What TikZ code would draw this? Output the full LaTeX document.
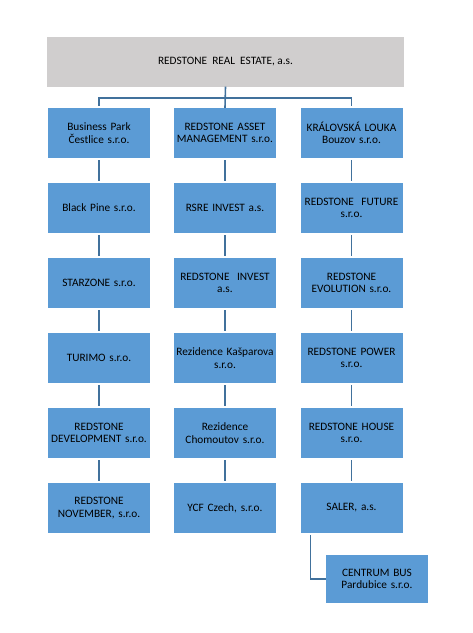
\documentclass[tikz,border=0pt]{standalone}
\usepackage{fontspec}
\setmainfont{Carlito}
\usetikzlibrary{positioning}
\definecolor{cParent}{RGB}{208,206,206}
\definecolor{cFirm}{RGB}{91,155,213}
\definecolor{cLink}{RGB}{65,113,156}
\tikzset{
	parent/.style={rectangle, fill=cParent, minimum width=357pt, minimum height=50pt, align=center, inner sep=1pt},
	firm/.style  ={rectangle, fill=cFirm, minimum width=102pt, minimum height=50pt, text width=100pt, align=center, inner sep=1pt},
	link/.style  ={draw=cLink, line width=1.6pt},
}
\begin{document}
\begin{tikzpicture}[x=1pt, y=1pt, font=\fontsize{11.3}{12.5}\selectfont, node distance=24.6pt]
	\useasboundingbox (0,0) rectangle (473,-633);
	\node[parent] (root) at (225.5,-61.5) {REDSTONE\ \ REAL\ \ ESTATE, a.s.};
	% left column
	\node[firm] (l1) at (99,-133) {Business Park\\ Čestlice s.r.o.};
	\node[firm, below=of l1] (l2) {Black Pine s.r.o.};
	\node[firm, below=of l2] (l3) {STARZONE s.r.o.};
	\node[firm, below=of l3] (l4) {TURIMO s.r.o.};
	\node[firm, below=of l4] (l5) {REDSTONE\\ DEVELOPMENT s.r.o.};
	\node[firm, below=of l5] (l6) {REDSTONE\\ NOVEMBER, s.r.o.};
	% middle column
	\node[firm] (m1) at (225,-133) {REDSTONE ASSET\\ MANAGEMENT s.r.o.};
	\node[firm, below=of m1] (m2) {RSRE INVEST a.s.};
	\node[firm, below=of m2] (m3) {REDSTONE\ \ INVEST\\ a.s.};
	\node[firm, below=of m3] (m4) {Rezidence Kašparova\\ s.r.o.};
	\node[firm, below=of m4] (m5) {Rezidence\\ Chomoutov s.r.o.};
	\node[firm, below=of m5] (m6) {YCF Czech, s.r.o.};
	% right column
	\node[firm] (r1) at (351.5,-133) {KRÁLOVSKÁ LOUKA\\ Bouzov s.r.o.};
	\node[firm, below=of r1] (r2) {REDSTONE\ \ FUTURE\\ s.r.o.};
	\node[firm, below=of r2] (r3) {REDSTONE\\ EVOLUTION s.r.o.};
	\node[firm, below=of r3] (r4) {REDSTONE POWER\\ s.r.o.};
	\node[firm, below=of r4] (r5) {REDSTONE HOUSE\\ s.r.o.};
	\node[firm, below=of r5] (r6) {SALER, a.s.};
	\node[firm, minimum height=48pt] (cb) at (377,-579) {CENTRUM BUS\\ Pardubice s.r.o.};
	% connectors
	\coordinate (bus) at (225,-98);
	\draw[link] (root.south) -- (m1.north);
	\draw[link] ([yshift=2pt]l1.north) |- (bus) -| ([yshift=2pt]r1.north);
	\foreach \col in {l,m,r}
		\foreach \i/\j in {1/2,2/3,3/4,4/5,5/6}
			\draw[link] ([yshift=-2pt]\col\i.south) -- ([yshift=2pt]\col\j.north);
	\draw[link] ([xshift=-41pt, yshift=-2pt]r6.south) |- (cb.west);
\end{tikzpicture}
\end{document}
